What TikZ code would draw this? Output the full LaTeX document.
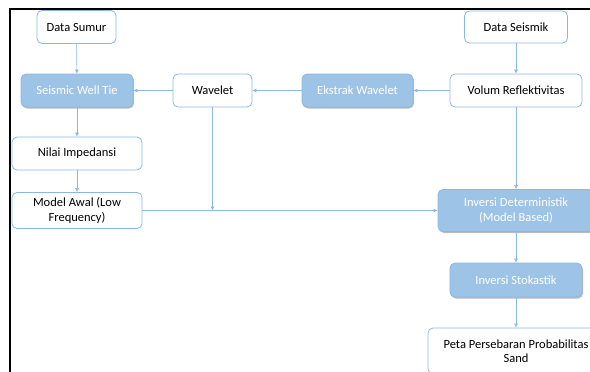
\documentclass[tikz,border=0pt]{standalone}
\usepackage{fontspec}
\setmainfont{Carlito}
\usepackage{xcolor}
\usetikzlibrary{arrows.meta,shadows}
\definecolor{boxline}{HTML}{8AB8E6}
\definecolor{boxfill}{HTML}{9DC3E6}
\definecolor{linkline}{HTML}{8DB8E6}

\begin{document}
\begin{tikzpicture}[x=1pt,y=-1pt]
    \useasboundingbox (0,0) rectangle (590,372);
    \tikzstyle{plain}=[draw=boxline, line width=0.8pt, fill=white, rounded corners=5pt,
        align=center, font=\fontsize{12.5}{14.5}\selectfont, inner sep=2pt]
    \tikzstyle{process}=[plain, fill=boxfill, text=white,
        drop shadow={shadow xshift=1pt, shadow yshift=-1.5pt, fill=black!45, opacity=0.6}]
    \tikzstyle{link}=[-{Latex[length=4pt,width=4pt]}, draw=linkline, line width=0.6pt]

    % frame
    \draw [line width=2pt] (10,372) -- (10,9) -- (590,9);

    \node[plain, minimum width=79pt, minimum height=33pt]  (sumur) at (76.5,27) {Data Sumur};
    \node[plain, minimum width=103pt, minimum height=32pt]  (seismik) at (516,27) {Data Seismik};
    \node[process, minimum width=112pt, minimum height=33pt]  (welltie) at (77,90.5) {Seismic Well Tie};
    \node[plain, minimum width=79pt, minimum height=33pt]  (wavelet) at (212.5,90.5) {Wavelet};
    \node[process, minimum width=111pt, minimum height=33pt]  (ekstrak) at (357.5,90.5) {Ekstrak Wavelet};
    \node[plain, minimum width=132pt, minimum height=33pt]  (volum) at (516,90.5) {Volum Reflektivitas};
    \node[plain, minimum width=130pt, minimum height=33pt]  (impedansi) at (77,153.5) {Nilai Impedansi};
    \node[plain, minimum width=130pt, minimum height=36pt]  (awal) at (77,210.5) {Model Awal (Low\\Frequency)};
    \node[process, minimum width=156pt, minimum height=42pt]  (determ) at (516,210.5) {Inversi Deterministik\\(Model Based)};
    \node[process, minimum width=132pt, minimum height=34pt]  (stokas) at (516,280) {Inversi Stokastik};
    \node[plain, minimum width=176pt, minimum height=46pt]  (peta) at (516,351) {Peta Persebaran Probabilitas\\Sand};

    \coordinate (join) at (wavelet.south |- awal.east);

    \draw [link] (sumur) -- (welltie);
    \draw [link] (welltie) -- (impedansi);
    \draw [link] (impedansi) -- (awal);

    \draw [link] (seismik) -- (volum);
    \draw [link] (volum) -- (ekstrak);
    \draw [link] (ekstrak) -- (wavelet);
    \draw [link] (wavelet) -- (welltie);

    \draw [link] (wavelet) -- (join);
    \draw [link] (awal) -- (determ);
    \draw [link] (volum) -- (determ);
    \draw [link] (determ) -- (stokas);
    \draw [link] (stokas) -- (peta);
\end{tikzpicture}
\end{document}
